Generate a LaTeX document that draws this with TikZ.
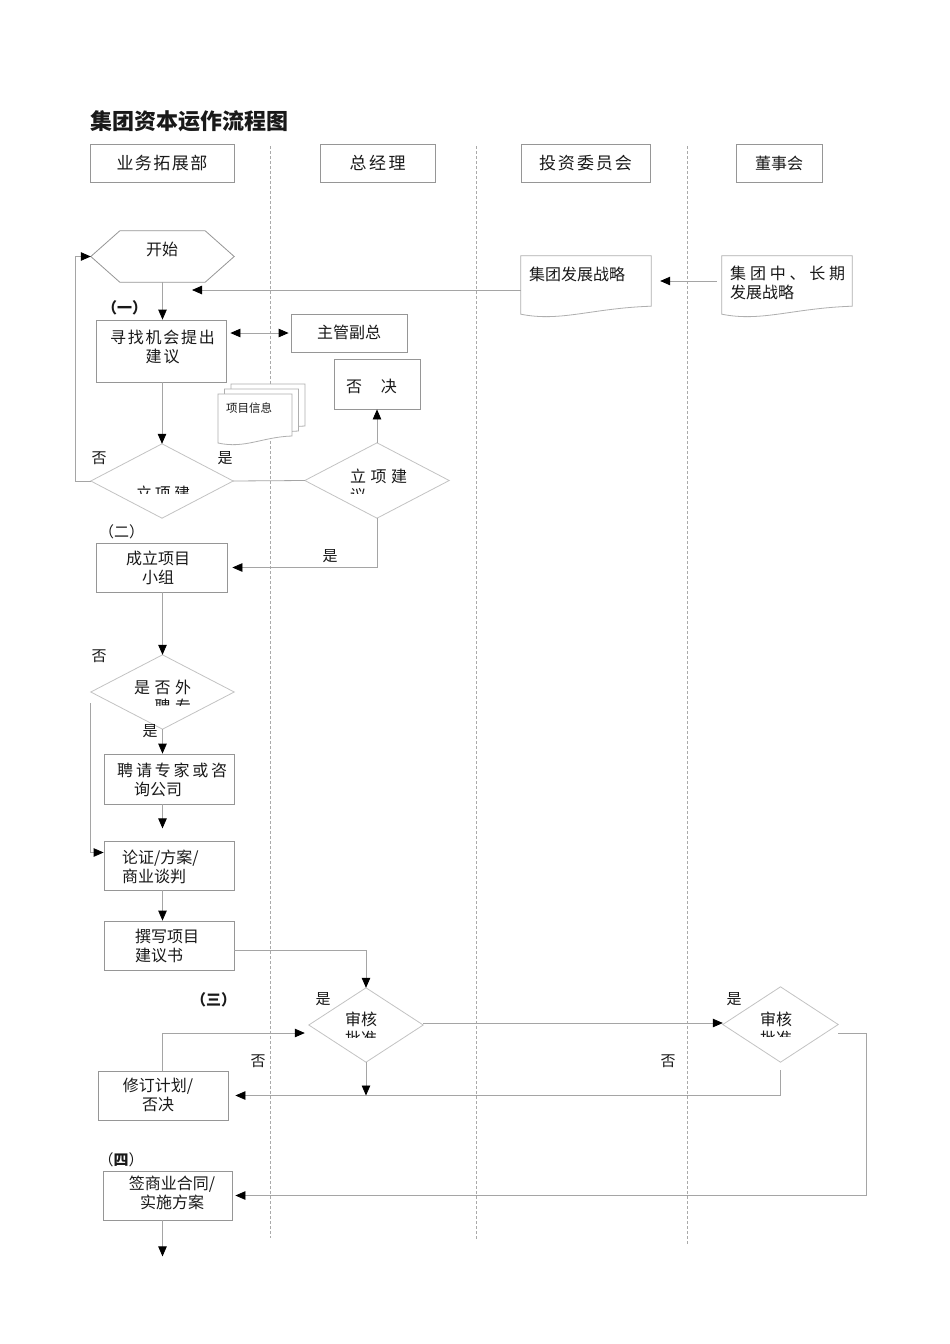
\documentclass[tikz,border=0pt]{standalone}
\usepackage{fontspec}
\setmainfont{Noto Sans CJK SC}
\usetikzlibrary{arrows.meta,calc,shadows}
\definecolor{boxc}{RGB}{150,150,150}
\definecolor{docc}{RGB}{175,175,175}
\definecolor{linec}{RGB}{165,165,165}
\definecolor{diac}{RGB}{195,195,195}
\definecolor{lanec}{RGB}{170,170,170}
\definecolor{txtc}{RGB}{25,25,25}
\newcommand\myls[2]{\def\mylsgap{\hspace{#1}}\mylsloop#2\relax}
\def\mylsloop#1{\ifx#1\relax\else#1\expandafter\mylsnext\fi}
\def\mylsnext#1{\ifx#1\relax\else\mylsgap#1\expandafter\mylsnext\fi}
\begin{document}
\begin{tikzpicture}[x=1pt,y=-1pt,
  box/.style={draw=boxc,line width=0.8pt,fill=white,inner sep=0pt},
  dbox/.style={draw=docc,line width=0.8pt,fill=white,inner sep=0pt},
  hbox/.style={box,drop shadow={shadow xshift=1.2pt,shadow yshift=-1.2pt,fill=black!35,opacity=1}},
  dia/.style={draw=diac,line width=0.8pt},
  sz/.style 2 args={minimum width=#1pt,minimum height=#2pt},
  ghost/.style={inner sep=0pt,draw=none},
  txt/.style={inner sep=0pt,text=txtc,font=\fontsize{16}{19}\selectfont,align=center},
  lbl/.style={inner sep=0pt,text=txtc,font=\fontsize{15}{18}\selectfont},
  conn/.style={draw=linec,line width=0.8pt},
  arr/.style={conn,-{Triangle[length=10pt,width=8.5pt,color=black]}},
  darr/.style={conn,{Triangle[length=10pt,width=8.5pt,color=black]}-{Triangle[length=10pt,width=8.5pt,color=black]}},
  lane/.style={draw=lanec,line width=0.6pt,dash pattern=on 2.5pt off 2.5pt},
]
\useasboundingbox (0,0) rectangle (950,1344);
\fill[white] (0,0) rectangle (950,1344);

% title
\node[anchor=west,inner sep=0pt,text=txtc,font=\bfseries\fontsize{22}{26}\selectfont] (title) at (90,121) {集团资本运作流程图};

% lane dividers
\draw[lane] (270,146) -- (270,1238);
\draw[lane] (476,146) -- (476,1240);
\draw[lane] (687,146) -- (687,1245);

% lane headers
\node[hbox,sz={144}{38},text=txtc,font=\fontsize{17}{20}\selectfont] (h1) at (162,163) {\myls{1.5pt}{业务拓展部}};
\node[hbox,sz={115}{38},text=txtc,font=\fontsize{17}{20}\selectfont] (h2) at (377.5,163) {\myls{2.5pt}{总经理}};
\node[hbox,sz={129}{38},text=txtc,font=\fontsize{17}{20}\selectfont] (h3) at (585.5,163) {\myls{2pt}{投资委员会}};
\node[hbox,sz={86}{38},text=txtc,font=\fontsize{16}{19}\selectfont] (h4) at (779,163) {董事会};

% start hexagon
\node[ghost,sz={143}{51}] (start) at (162.5,256.5) {};
\draw[box] (start.west) -- ($(start.north west)+(29,0)$) -- ($(start.north east)+(-29,0)$) -- (start.east) -- ($(start.south east)+(-29,0)$) -- ($(start.south west)+(29,0)$) -- cycle;
\node[txt] (startt) at (162,249) {开始};

% documents (strategy)
\node[ghost,sz={130}{50}] (doc1) at (586,281) {};
\draw[dbox] ($(doc1.south west)+(0,8)$) -- (doc1.north west) -- (doc1.north east) -- (doc1.south east) .. controls +(-60,2) and +(40,8) .. ($(doc1.south west)+(0,8)$) -- cycle;
\node[txt,anchor=west] (doc1t) at (529,274) {集团发展战略};
\node[ghost,sz={130}{50}] (doc2) at (787,281) {};
\draw[dbox] ($(doc2.south west)+(0,8)$) -- (doc2.north west) -- (doc2.north east) -- (doc2.south east) .. controls +(-60,2) and +(40,8) .. ($(doc2.south west)+(0,8)$) -- cycle;
\node[txt,anchor=west,align=left] (doc2t) at (730,283) {\makebox[115pt][s]{集\hfill 团\hfill 中\hfill 、\hfill 长\hfill 期}\\发展战略};

% (一)
\node[lbl,font=\bfseries\fontsize{15}{18}\selectfont] (p1) at (124.5,308) {（一）};

% boxes
\node[box,sz={130}{62}] (sx) at (161,351) {};
\node[txt] (sxt) at (162.5,346.5) {\myls{1.8pt}{寻找机会提出}\\\myls{2pt}{建议}};
\node[box,sz={116}{38}] (zg) at (349,333) {};
\node[txt] (zgt) at (349,332) {主管副总};
\node[box,sz={86}{50}] (fj) at (377,384) {};
\node[txt] (fjt) at (371.5,386) {否\hspace{3pt}　决};

% project info multi-document
\foreach \i in {2,1,0} {
  \draw[dbox,shift={(6.5*\i,-5*\i)}] (218,443) -- (218,394) -- (292,394) -- (292,436) .. controls (262,437) and (245,449) .. (218,443) -- cycle;
}
\node[inner sep=0pt,text=txtc,font=\fontsize{11.5}{13}\selectfont,anchor=west] (info) at (226,408) {项目信息};

% decision diamonds (立项建议)
\node[ghost,sz={142}{74}] (ld) at (162,481) {};
\draw[dia] (ld.north) -- (ld.east) -- (ld.south) -- (ld.west) -- cycle;
\node[ghost,sz={144}{75}] (rd) at (377,480.5) {};
\draw[dia] (rd.north) -- (rd.east) -- (rd.south) -- (rd.west) -- cycle;
\begin{scope}
  \clip (115,470) rectangle (210,493.5);
  \node[txt] (ldt) at (163,493) {\myls{3pt}{立项建}};
\end{scope}
\begin{scope}
  \clip (330,455) rectangle (425,493);
  \node[txt,anchor=west,align=left] (rdt) at (350,486) {\myls{4.5pt}{立项建}\\议};
\end{scope}
\node[lbl] (n1) at (99,458) {否};
\node[lbl] (y1) at (225,458) {是};

% (二)
\node[lbl] (p2) at (121.5,532) {（二）};
\node[box,sz={131}{49}] (cl) at (161.5,567.5) {};
\node[txt] (clt) at (158,567.5) {成立项目\\小组};
\node[lbl] (y2) at (330,556) {是};

% outside experts diamond
\node[ghost,sz={143}{74}] (wd) at (162.5,692) {};
\draw[dia] (wd.north) -- (wd.east) -- (wd.south) -- (wd.west) -- cycle;
\begin{scope}
  \clip (120,670) rectangle (205,705.5);
  \node[txt,anchor=west,align=left] (wdt) at (134,697) {\myls{4.5pt}{是否外}\\\hspace*{20.5pt}\myls{4.5pt}{聘专}};
\end{scope}
\node[lbl] (n2) at (99,656) {否};
\node[lbl] (y3) at (150,731) {是};

\node[box,sz={130}{50}] (pq) at (169,779) {};
\node[txt,anchor=west,align=left] (pqt) at (117,779.5) {\myls{2.8pt}{聘请专家或咨}\\\hspace*{17pt}询公司};
\node[box,sz={130}{49}] (lz) at (169,865.5) {};
\node[txt,anchor=west,align=left] (lzt) at (122,866.5) {论证/方案/\\商业谈判};
\node[box,sz={130}{49}] (zx) at (169,945.5) {};
\node[txt,anchor=west,align=left] (zxt) at (135,945.5) {撰写项目\\建议书};

% (三) approval
\node[lbl,font=\bfseries\fontsize{15}{18}\selectfont] (p3) at (213.5,1000) {（三）};
\node[ghost,sz={114}{74}] (d1) at (366,1025) {};
\draw[dia] (d1.north) -- (d1.east) -- (d1.south) -- (d1.west) -- cycle;
\begin{scope}
  \clip (335,1005) rectangle (400,1037.5);
  \node[txt,anchor=west,align=left] (d1t) at (345,1028.5) {审核\\批准};
\end{scope}
\node[ghost,sz={115}{75}] (d2) at (780.5,1024.5) {};
\draw[dia] (d2.north) -- (d2.east) -- (d2.south) -- (d2.west) -- cycle;
\begin{scope}
  \clip (750,1005) rectangle (815,1036.5);
  \node[txt,anchor=west,align=left] (d2t) at (760,1028.5) {审核\\批准};
\end{scope}
\node[lbl] (y4) at (323,999) {是};
\node[lbl] (y5) at (734,999) {是};
\node[lbl] (n3) at (258,1061) {否};
\node[lbl] (n4) at (668,1061) {否};

\node[box,sz={130}{49}] (xd) at (163,1095.5) {};
\node[txt] (xdt) at (158,1095) {修订计划/\\否决};

% (四)
\node[lbl] (p4) at (121,1160) {（\textbf{四}）};
\node[box,sz={129}{49}] (qs) at (167.5,1195.5) {};
\node[txt] (qst) at (172,1193) {签商业合同/\\实施方案};

% connectors
\draw[arr] (start.south) -- (start.south |- sx.north);
\draw[darr,shorten <=4pt,shorten >=2pt] (sx.east |- zg.west) -- (zg.west);
\draw[arr] (sx.south -| ld.north) -- (ld.north);
\draw[arr] (ld.west) -- ++(-15,0) |- (start.west);
\draw[conn] (ld.east) -- (rd.west);
\draw[arr] (rd.north) -- (fj.south);
\draw[arr,shorten >=5pt] (rd.south) |- (cl.east);
\draw[arr] (cl.south -| wd.north) -- (wd.north);
\draw[arr] (wd.south) -- (wd.south |- pq.north);
\coordinate (wdl) at ($(wd.west)+(0,11)$);
\draw[arr] (wdl) |- ($(lz.west)+(0,-13)$);
\draw[arr] (wd.south |- pq.south) -- ++(0,24);
\draw[arr] (wd.south |- lz.south) -- (wd.south |- zx.north);
\draw[arr] ($(zx.east)+(0,4.5)$) -| (d1.north);
\draw[arr] ($(d1.east)+(0,-2)$) -- ($(d2.west)+(0,-1.5)$);
\coordinate (d2b) at ($(d2.south)+(0,8)$);
\draw[arr,shorten >=7pt] (d2b) |- (xd.east);
\draw[arr] (d1.south) -- (d1.south |- xd.east);
\draw[arr] (xd.north -| wd.south) |- ($(d1.west)+(-4,8)$);
\draw[arr,shorten >=3pt] ($(d2.east)+(0,8.5)$) -- ++(28,0) |- (qs.east);
\draw[arr] (wd.south |- qs.south) -- ++(0,36);
\coordinate (s1) at (192,290);
\draw[arr] ($(doc1.west)+(0,9)$) -- (s1);
\draw[arr,shorten <=5pt,shorten >=9pt] (doc2.west) -- (doc1.east);
\end{tikzpicture}
\end{document}
